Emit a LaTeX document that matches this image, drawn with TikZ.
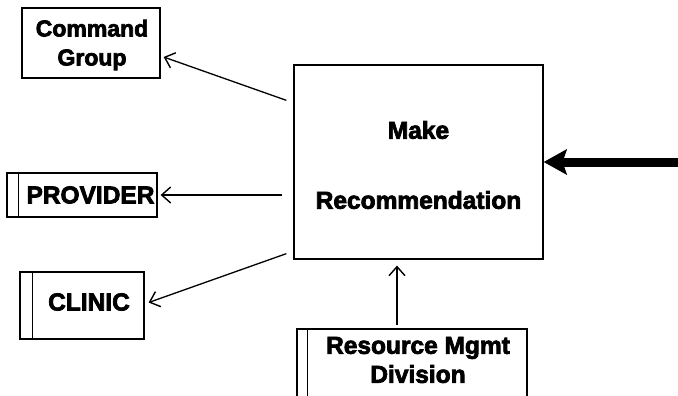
\documentclass[tikz,border=0pt]{standalone}
\usepackage{fontspec}
\setmainfont{Liberation Sans}[BoldFeatures={FakeBold=3}]
\usetikzlibrary{arrows.meta}
\begin{document}
\begin{tikzpicture}[x=1pt,y=-1pt,
  box/.style={draw,line width=1.3pt,inner sep=0pt,anchor=center},
  lbl/.style={font=\bfseries\fontsize{24.5}{29}\selectfont,align=center,inner sep=0pt},
  flow/.style={line width=1.3pt,-{Straight Barb[length=9pt,width=16pt,line width=1.4pt]}},
  feedarrow/.style={line width=9pt,-{Stealth[length=23pt,width=25pt,inset=4pt]}}]
\useasboundingbox (0,0) rectangle (678,396);
\clip (0,0) rectangle (678,396);

% process box
\node[box,minimum width=249pt,minimum height=194pt] (main) at (418.5,162) {};
\node[lbl] (make) at (418.5,130) {Make};
\node[lbl] (rec) at (418.5,200) {Recommendation};

% external entities
\node[box,minimum width=138pt,minimum height=70pt] (cmd) at (91,43) {};
\node[lbl,font=\bfseries\fontsize{23}{29}\selectfont] (cmdtext) at (92,45) {Command\\Group};

\node[box,minimum width=150pt,minimum height=44pt] (prov) at (82,195) {};
\draw[line width=1.3pt] ([xshift=12pt]prov.north west) -- ([xshift=12pt]prov.south west);
\node[lbl] (provtext) at (90.5,195) {PROVIDER};

\node[box,minimum width=124pt,minimum height=67pt] (clinic) at (82,305.5) {};
\draw[line width=1.3pt] ([xshift=13pt]clinic.north west) -- ([xshift=13pt]clinic.south west);
\node[lbl] (clinictext) at (89,302) {CLINIC};

\node[box,minimum width=230pt,minimum height=71pt] (rmd) at (412,364.5) {};
\draw[line width=1.3pt] ([xshift=11pt]rmd.north west) -- ([xshift=11pt]rmd.south west);
\node[lbl] (rmdtext) at (418,360) {Resource Mgmt\\Division};

% data flows
\draw[flow] ([xshift=-7pt,yshift=-36pt]main.north west) -- ([xshift=3pt,yshift=-14pt]cmd.east);
\draw[flow] ([xshift=-11pt]main.west |- prov.east) -- ([xshift=3pt]prov.east);
\draw[flow] ([xshift=-7pt,yshift=6pt]main.south west) -- ([xshift=4pt,yshift=3pt]clinic.east);
\draw[flow] ([xshift=-15pt,yshift=3pt]rmd.north) -- ([xshift=-21.5pt,yshift=-6pt]main.south);

% incoming heavy flow
\coordinate (feed) at (682,162);
\draw[feedarrow] (feed) -- (main.east);
\end{tikzpicture}
\end{document}
